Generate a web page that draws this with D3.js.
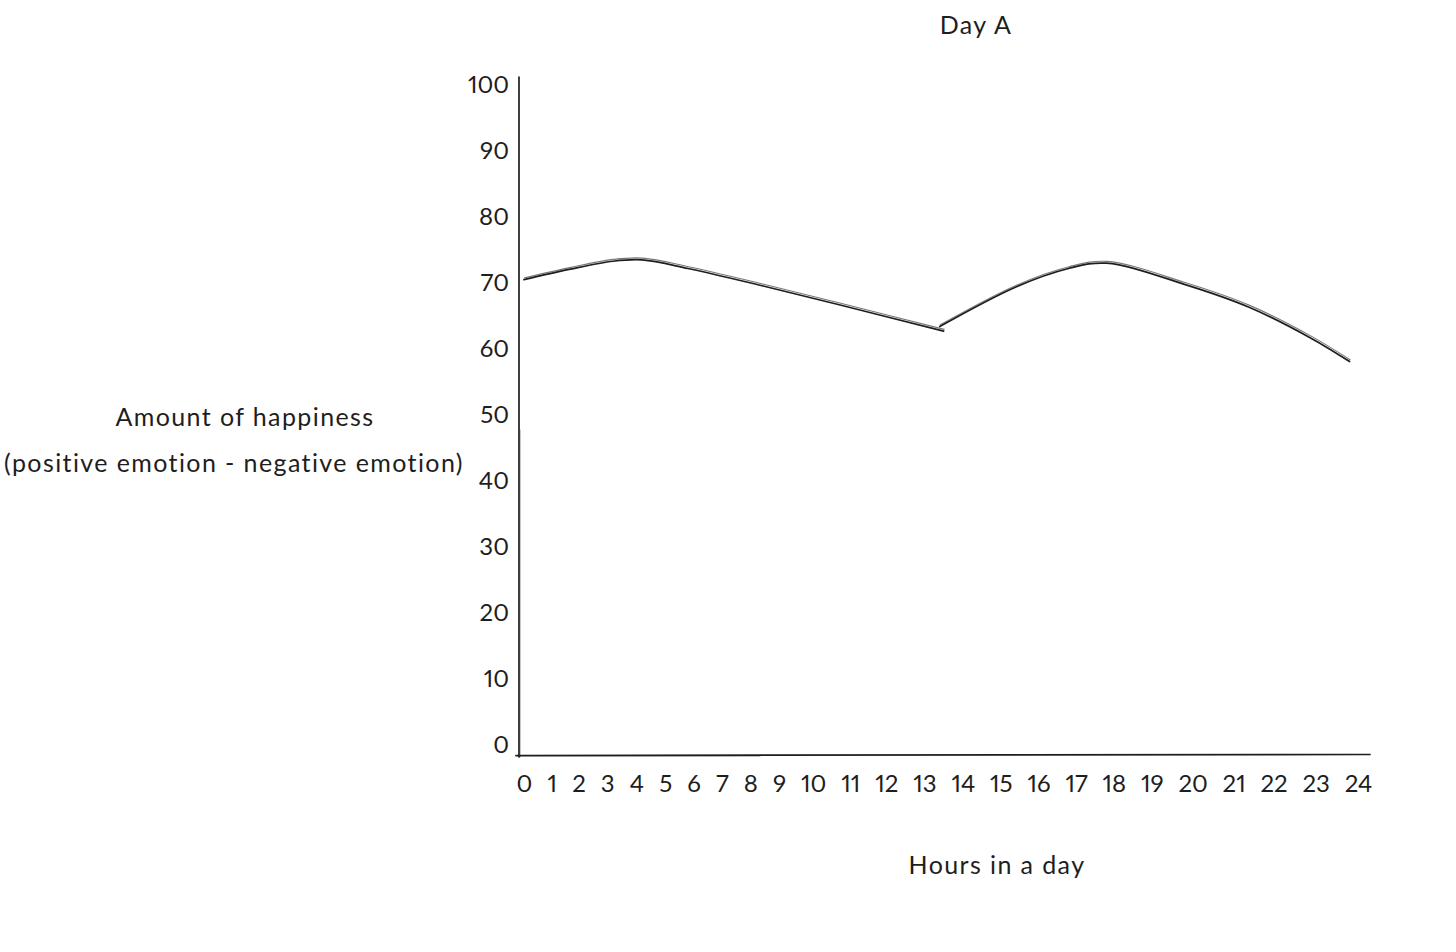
<!DOCTYPE html>
<html><head><meta charset="utf-8">
<script src="https://cdn.jsdelivr.net/npm/d3@7"></script>
<style>
body{margin:0;background:#ffffff}
svg text{font-variant-numeric: proportional-nums;}
</style>
</head><body>
<svg id="chart" width="1456" height="952"></svg>
<script>
// ---- data ----
const chartTitle = "Day A";
const xTitle = "Hours in a day";
const yTitleLines = ["Amount of happiness", "(positive emotion - negative emotion)"];
const hourTicks = [0,1,2,3,4,5,6,7,8,9,10,11,12,13,14,15,16,17,18,19,20,21,22,23,24];
const valueTicks = [0,10,20,30,40,50,60,70,80,90,100];
const morningHours  = [0, 1.7, 3.2, 4.2, 5.8, 8.3, 10.7, 13.5];
const morningValues = [70.5, 72.1, 73.3, 73.5, 72.2, 69.7, 66.7, 62.7];
const afternoonHours  = [13.4, 15.4, 16.8, 17.8, 19.8, 21.4, 22.9, 23.8];
const afternoonValues = [63.4, 69.4, 72.2, 73.0, 69.8, 66.3, 61.6, 58.1];

// ---- layout / style ----
const FONT = "Lato, 'Open Sans', sans-serif";
const FS = 24;
const INK = "#1e1e1e";
const svg = d3.select("#chart");
svg.append("rect").attr("width",1456).attr("height",952).attr("fill","#ffffff");

// x scale: hour labels laid out like a spaced row of handwritten numbers
const probe = svg.append("text").attr("font-family",FONT).attr("font-size",FS);
const measure = s => { probe.text(s); return probe.node().getComputedTextLength(); };
const widths = hourTicks.map(h => measure(String(h)));
const gap = 1.0 * measure("0");
probe.remove();
let cum = 0; const centers = [];
widths.forEach(w => { centers.push(cum + w/2); cum += w + gap; });
const xStart = 524, xEnd = 1358;
const k = (xEnd - xStart) / (centers[centers.length-1] - centers[0]);
const x = d3.scaleLinear().domain(hourTicks).range(centers.map(c => xStart + (c - centers[0]) * k));
const y = d3.scaleLinear().domain([0,100]).range([745, 85]);

// axis lines (sketchy double stroke)
const axes = svg.append("g").attr("stroke", INK).attr("fill","none").attr("stroke-linecap","round");
axes.append("line").attr("x1",519).attr("y1",77).attr("x2",519).attr("y2",757).attr("stroke-width",1.7);
axes.append("line").attr("x1",520.2).attr("y1",430).attr("x2",520.2).attr("y2",757).attr("stroke-width",1).attr("opacity",0.35);
axes.append("line").attr("x1",516).attr("y1",755.5).attr("x2",1370).attr("y2",754.5).attr("stroke-width",1.7);
axes.append("line").attr("x1",516).attr("y1",756.5).attr("x2",760).attr("y2",756.3).attr("stroke-width",1).attr("opacity",0.35);

// y tick labels
const yAxis = svg.append("g").attr("transform","translate(509,0)")
  .call(d3.axisLeft(y).tickValues(valueTicks).tickSize(0).tickPadding(0));
yAxis.select(".domain").remove();
yAxis.selectAll("text").attr("font-family",FONT).attr("font-size",FS).attr("fill",INK);

// x tick labels
const xAxis = svg.append("g").attr("transform","translate(0,775)")
  .call(d3.axisBottom(x).tickValues(hourTicks).tickSize(0).tickPadding(0));
xAxis.select(".domain").remove();
xAxis.selectAll("text").attr("font-family",FONT).attr("font-size",FS).attr("fill",INK);

// lines
const line = d3.line().x(d => x(d[0])).y(d => y(d[1])).curve(d3.curveCatmullRom.alpha(0.5));
const segs = [d3.zip(morningHours, morningValues), d3.zip(afternoonHours, afternoonValues)];
const lg = svg.append("g").attr("fill","none").attr("stroke",INK).attr("stroke-linecap","round");
segs.forEach(s => {
  lg.append("path").attr("d", line(s)).attr("stroke-width",1.7);
  lg.append("path").attr("d", line(s)).attr("stroke-width",1.1).attr("opacity",0.6)
    .attr("transform","translate(0.6,-1.8)");
});

// titles
const t = svg.append("g").attr("font-family",FONT).attr("font-size",25).attr("letter-spacing",1.4)
  .attr("fill",INK).attr("text-anchor","middle").attr("dominant-baseline","central");
t.append("text").attr("x",976).attr("y",24).text(chartTitle);
t.append("text").attr("x",997).attr("y",864).text(xTitle);
t.append("text").attr("x",245).attr("y",416).text(yTitleLines[0]);
t.append("text").attr("x",234).attr("y",462).text(yTitleLines[1]);
</script>
</body></html>
